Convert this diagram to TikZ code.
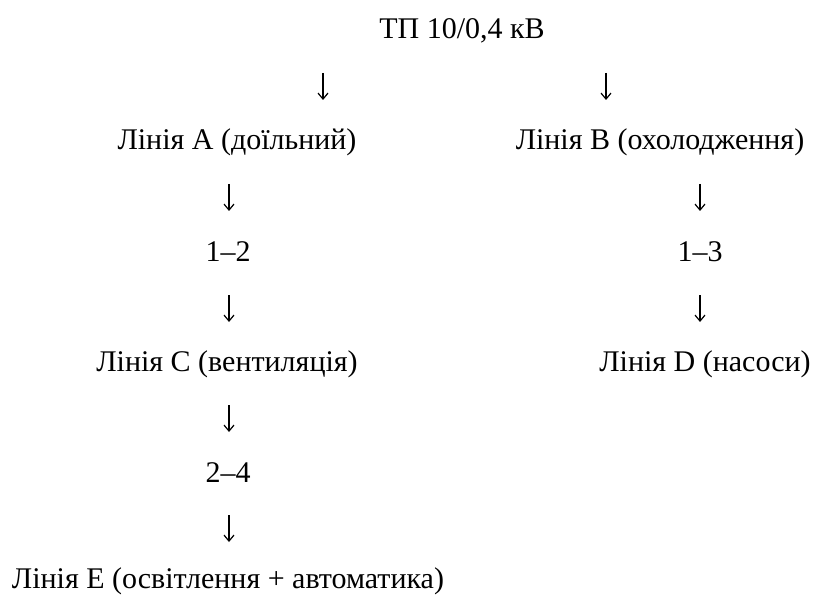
\documentclass[tikz,border=0pt]{standalone}
\usepackage{fontspec}
\setmainfont{Liberation Serif}
\usetikzlibrary{arrows.meta}
\begin{document}
\begin{tikzpicture}[x=1pt,y=-1pt,
  lbl/.style={inner sep=0pt,anchor=base,font=\fontsize{30}{36}\selectfont},
  arr/.style={line width=1.2pt,-{Straight Barb[length=6pt,width=10pt,line width=1.2pt]}}]
\useasboundingbox (0,0) rectangle (827,596);
\node[lbl] (tp) at (462,39) {ТП 10/0,4 кВ};
\node[lbl] (la) at (237,150) {Лінія A (доїльний)};
\node[lbl] (lb) at (660,150) {Лінія B (охолодження)};
\node[lbl] (n12) at (228,261) {1–2};
\node[lbl] (n13) at (700,261) {1–3};
\node[lbl] (lc) at (227,371) {Лінія C (вентиляція)};
\node[lbl] (ld) at (705,371) {Лінія D (насоси)};
\node[lbl] (n24) at (228,482) {2–4};
\node[lbl] (le) at (228,588) {Лінія E (освітлення + автоматика)};
\coordinate (a1t) at (323,73);  \coordinate (a1b) at (323,100);
\coordinate (b1t) at (606,73);  \coordinate (b1b) at (606,100);
\coordinate (a2t) at (229,184); \coordinate (a2b) at (229,211);
\coordinate (b2t) at (700,184); \coordinate (b2b) at (700,211);
\coordinate (a3t) at (229,295); \coordinate (a3b) at (229,322);
\coordinate (b3t) at (700,295); \coordinate (b3b) at (700,322);
\coordinate (a4t) at (229,405); \coordinate (a4b) at (229,432);
\coordinate (a5t) at (229,515); \coordinate (a5b) at (229,542);
\draw[arr] (a1t) -- (a1b);
\draw[arr] (b1t) -- (b1b);
\draw[arr] (a2t) -- (a2b);
\draw[arr] (b2t) -- (b2b);
\draw[arr] (a3t) -- (a3b);
\draw[arr] (b3t) -- (b3b);
\draw[arr] (a4t) -- (a4b);
\draw[arr] (a5t) -- (a5b);
\end{tikzpicture}
\end{document}
